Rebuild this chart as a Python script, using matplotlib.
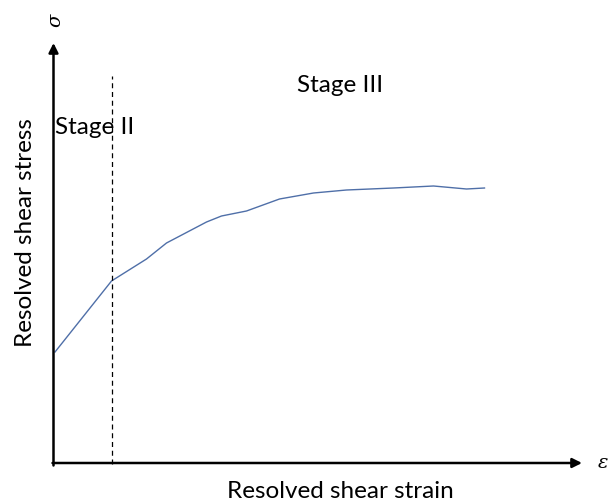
import matplotlib.pyplot as plt

# Work-hardening curve: resolved shear strain vs resolved shear stress (arbitrary units)
strain = [1.5, 58, 93, 113, 153, 168, 193, 226, 260, 293, 340, 380, 413, 431]
stress = [112, 183, 205, 221, 242, 248, 253, 265, 271, 274, 276, 278, 275, 276]
stage_boundary = 58

W, H = 608, 502
fig = plt.figure(figsize=(W / 100, H / 100), dpi=100)
ax = fig.add_axes([0, 0, 1, 1])
# axes origin sits at pixel (53.5, 465) of the figure; y counts upwards
x0, base = 53.5, 465
ax.set_xlim(-x0, W - x0)
ax.set_ylim(base - H, base)
ax.axis("off")


def px(x, y):
    """figure pixel (from top-left) -> data coords"""
    return x - x0, base - y


font = "Lato"
fs = 17.5
ax.plot(strain, stress, color="#4f6fa8", linewidth=1.0)
ax.plot([stage_boundary, stage_boundary], [0, base - 77], color="black",
        linestyle=(0, (4, 3)), linewidth=0.9)

# axes with arrowheads
ax.annotate("", xy=px(53.5, 44), xytext=(0, -1.5),
            arrowprops=dict(arrowstyle="-|>", color="black", lw=1.8,
                            mutation_scale=14, shrinkA=0, shrinkB=0))
ax.annotate("", xy=px(582, 464), xytext=(-1, 1),
            arrowprops=dict(arrowstyle="-|>", color="black", lw=1.8,
                            mutation_scale=14, shrinkA=0, shrinkB=0))

ax.text(*px(55, 20), "σ", fontsize=14, style="italic", rotation=90,
        ha="center", va="center", family="DejaVu Serif")
ax.text(*px(603, 463), "ε", fontsize=14, style="italic",
        ha="center", va="center", family="DejaVu Serif")

ax.text(*px(32, 347), "Resolved shear stress", fontsize=fs, rotation=90,
        rotation_mode="anchor", ha="left", va="baseline", family=font)
ax.text(*px(227, 498), "Resolved shear strain", fontsize=fs,
        ha="left", va="baseline", family=font)
ax.text(*px(55, 134), "Stage II", fontsize=fs,
        ha="left", va="baseline", family=font)
ax.text(*px(297, 92), "Stage III", fontsize=fs,
        ha="left", va="baseline", family=font)

fig.savefig("out.png", dpi=100)
